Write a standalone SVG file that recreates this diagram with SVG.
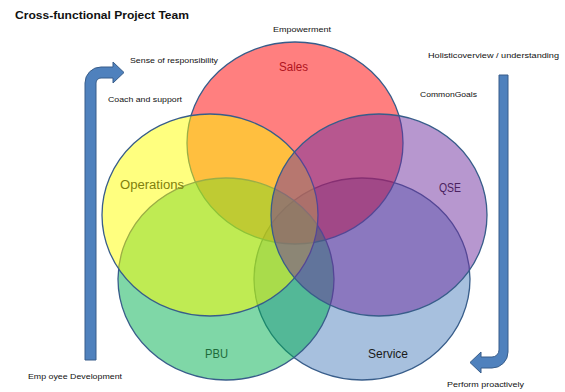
<svg xmlns="http://www.w3.org/2000/svg" width="565" height="392" viewBox="0 0 565 392">
  <style>
    .ring { stroke: #385D8A; stroke-width: 1.3; fill-opacity: 0.5; }
    .note { font-family: "Liberation Sans", Arial, sans-serif; font-size: 8px; fill: #111; }
    .label { font-family: "Liberation Sans", Arial, sans-serif; font-size: 12.5px; }
    .arrow { fill: #4F81BD; stroke: #385D8A; stroke-width: 1; }
  </style>
  <rect width="565" height="392" fill="#ffffff"/>

  <text x="15" y="19" font-family="'Liberation Sans', Arial, sans-serif" font-size="11.5" font-weight="bold" fill="#111" textLength="174" lengthAdjust="spacingAndGlyphs">Cross-functional Project Team</text>

  <!-- Venn circles, back to front -->
  <g id="service"><ellipse class="ring" cx="362" cy="279" rx="108" ry="101" fill="#4F81BD"/></g>
  <g id="sales"><ellipse class="ring" cx="295" cy="143" rx="108" ry="101" fill="#FF0000"/></g>
  <g id="pbu"><ellipse class="ring" cx="226" cy="279" rx="108" ry="101" fill="#00B050"/></g>
  <g id="operations"><ellipse class="ring" cx="210" cy="215" rx="108" ry="101" fill="#FFFF00"/></g>
  <g id="qse"><ellipse class="ring" cx="379" cy="215" rx="108" ry="101" fill="#7030A0"/></g>

  <!-- circle labels -->
  <g id="circle-labels">
    <text class="label" x="279" y="71" fill="#B0141E" textLength="29" lengthAdjust="spacingAndGlyphs">Sales</text>
    <text class="label" x="120" y="189" fill="#80800C" textLength="64" lengthAdjust="spacingAndGlyphs">Operations</text>
    <text class="label" x="439" y="192" fill="#4A2260" textLength="22" lengthAdjust="spacingAndGlyphs">QSE</text>
    <text class="label" x="205" y="358" fill="#1E6B3A" textLength="23" lengthAdjust="spacingAndGlyphs">PBU</text>
    <text class="label" x="368" y="358" fill="#1A1A1A" textLength="40" lengthAdjust="spacingAndGlyphs">Service</text>
  </g>

  <!-- bent arrows -->
  <g id="connectors">
    <path id="arrow-up" class="arrow" d="M85,360 L85,83 A16,16 0 0 1 101,67 L113,67 L113,62 L124,72.5 L113,83 L113,78 L101,78 A5,5 0 0 0 96,83 L96,360 Z"/>
    <path id="arrow-down" class="arrow" d="M499,75 L508,75 L508,352 A16,16 0 0 1 492,368 L481,368 L481,373 L470,362.5 L481,352 L481,357 L492,357 A7,7 0 0 0 499,350 Z"/>
  </g>

  <!-- side notes -->
  <g id="notes">
    <text class="note" x="273" y="32" textLength="58" lengthAdjust="spacingAndGlyphs">Empowerment</text>
    <text class="note" x="130" y="63" textLength="88" lengthAdjust="spacingAndGlyphs">Sense of responsibility</text>
    <text class="note" x="108" y="101.5" textLength="74" lengthAdjust="spacingAndGlyphs">Coach and support</text>
    <text class="note" x="428" y="58" textLength="131" lengthAdjust="spacingAndGlyphs">Holisticoverview / understanding</text>
    <text class="note" x="420" y="97" textLength="57" lengthAdjust="spacingAndGlyphs">CommonGoals</text>
    <text class="note" x="28" y="379" textLength="94" lengthAdjust="spacingAndGlyphs">Emp oyee Development</text>
    <text class="note" x="447" y="387" textLength="77" lengthAdjust="spacingAndGlyphs">Perform proactively</text>
  </g>
</svg>
